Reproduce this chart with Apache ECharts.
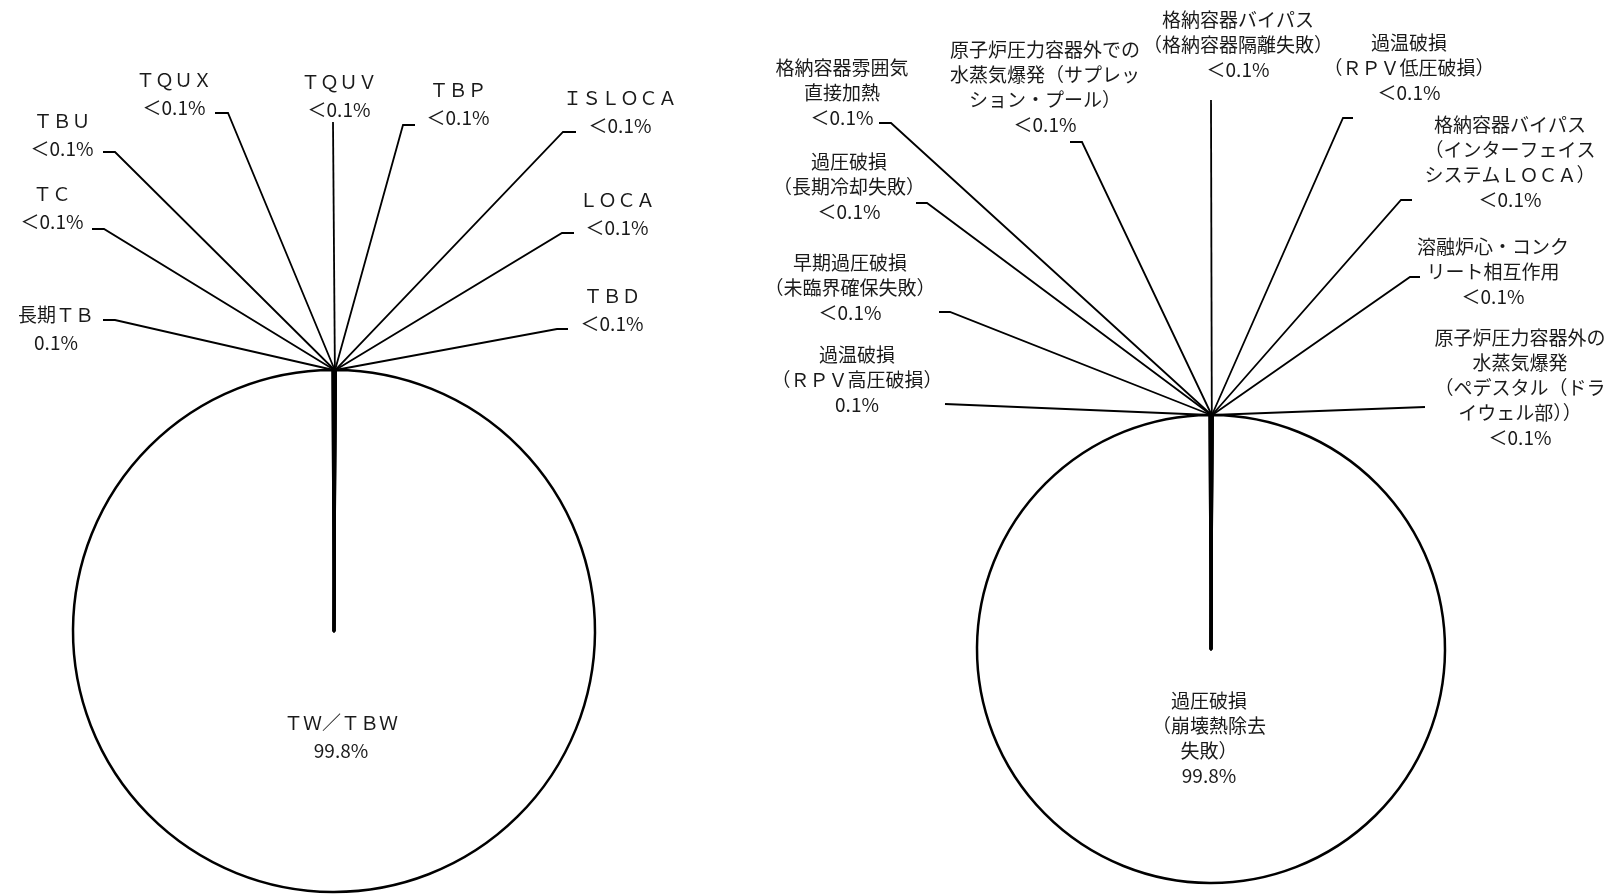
<!DOCTYPE html>
<html>
<head>
<meta charset="utf-8">
<script src="https://cdn.jsdelivr.net/npm/echarts@6/dist/echarts.min.js"></script>
<style>
html, body { margin: 0; padding: 0; background: #fff; }
#main { width: 1610px; height: 894px; }
</style>
</head>
<body>
<div id="main"></div>
<script>
// left pie: sequences (dominant slice first so the thin ones are drawn over it)
var leftNames = ['ＴＷ／ＴＢＷ', '長期ＴＢ', 'ＴＣ', 'ＴＢＵ', 'ＴＱＵＸ', 'ＴＱＵＶ', 'ＴＢＰ', 'ＩＳＬＯＣＡ', 'ＬＯＣＡ', 'ＴＢＤ'];
var leftValues = [99.8, 0.1, 0.01, 0.01, 0.01, 0.01, 0.01, 0.01, 0.01, 0.01];
var leftPctText = ['99.8%', '0.1%', '＜0.1%', '＜0.1%', '＜0.1%', '＜0.1%', '＜0.1%', '＜0.1%', '＜0.1%', '＜0.1%'];

// right pie: containment failure modes
var rightNames = [
    '過圧破損\n（崩壊熱除去\n失敗）',
    '過温破損\n（ＲＰＶ高圧破損）',
    '早期過圧破損\n（未臨界確保失敗）',
    '過圧破損\n（長期冷却失敗）',
    '格納容器雰囲気\n直接加熱',
    '原子炉圧力容器外での\n水蒸気爆発（サプレッ\nション・プール）',
    '格納容器バイパス\n（格納容器隔離失敗）',
    '過温破損\n（ＲＰＶ低圧破損）',
    '格納容器バイパス\n（インターフェイス\nシステムＬＯＣＡ）',
    '溶融炉心・コンク\nリート相互作用',
    '原子炉圧力容器外の\n水蒸気爆発\n（ペデスタル（ドラ\nイウェル部））'
];
var rightValues = [99.8, 0.1, 0.01, 0.01, 0.01, 0.01, 0.01, 0.01, 0.01, 0.01, 0.01];
var rightPctText = ['99.8%', '0.1%', '＜0.1%', '＜0.1%', '＜0.1%', '＜0.1%', '＜0.1%', '＜0.1%', '＜0.1%', '＜0.1%', '＜0.1%'];

// label placement (block centre) and leader line bend/end points
var leftLabelPos = [[341, 737], [56, 329], [52, 208], [62, 135], [174, 94], [339, 96], [458, 104], [620, 112], [617, 214], [612, 310]];
var leftBends = [null, [115, 320, 103, 320], [104, 229, 92, 229], [115, 152, 103, 152], [228, 113, 215, 113], [333, 122, 333, 122],
    [403, 125, 415, 125], [563, 132, 576, 132], [562, 233, 574, 233], [557, 329, 568, 329]];
var rightLabelPos = [[1209, 738], [857, 380], [850, 288], [849, 187], [842, 93], [1045, 87], [1238, 45], [1409, 68], [1510, 162], [1493, 272], [1520, 388]];
var rightBends = [null, [945, 404, 945, 404], [950, 312, 939, 312], [927, 203, 916, 203], [891, 123, 879, 123], [1082, 142, 1070, 142],
    [1211, 100, 1211, 100], [1343, 118, 1353, 118], [1401, 200, 1412, 200], [1410, 277, 1420, 277], [1425, 407, 1425, 407]];

var fontFamily = '"Noto Sans CJK JP", sans-serif';

function buildData(names, values, pct) {
    var result = [];
    for (var i = 0; i < values.length; i++) {
        var item = {
            name: names[i],
            value: values[i],
            label: { formatter: names[i] + '\n' + pct[i] }
        };
        if (i == 0) {
            item.itemStyle = { color: '#fff', borderWidth: 2.5 };
            item.label.position = 'inside';
            item.labelLine = { show: false };
        }
        result.push(item);
    }
    return result;
}

function makeLayout(pos, bends) {
    return function (params) {
        var i = params.dataIndex;
        var res = { x: pos[i][0], y: pos[i][1], align: 'center', verticalAlign: 'middle' };
        var b = bends[i];
        if (b && params.labelLinePoints && params.labelLinePoints.length) {
            var p0 = params.labelLinePoints[0];
            res.labelLinePoints = [[p0[0], p0[1]], [b[0], b[1]], [b[2], b[3]]];
        }
        return res;
    };
}

function createSeries(center, radius, lineHeight, names, values, pct, pos, bends) {
    return {
        type: 'pie',
        center: center,
        radius: radius,
        startAngle: 89.64,
        clockwise: true,
        avoidLabelOverlap: false,
        silent: true,
        itemStyle: {
            color: '#000',
            borderColor: '#000',
            borderWidth: 2.5
        },
        label: {
            show: true,
            position: 'outside',
            color: '#1a1a1a',
            fontSize: 19,
            lineHeight: lineHeight,
            fontFamily: fontFamily,
            align: 'center'
        },
        labelLine: {
            show: true,
            length: 10,
            length2: 10,
            lineStyle: { color: '#000', width: 1.8 }
        },
        labelLayout: makeLayout(pos, bends),
        data: buildData(names, values, pct)
    };
}

var chart = echarts.init(document.getElementById('main'));
chart.setOption({
    backgroundColor: '#fff',
    animation: false,
    series: [
        createSeries([334, 631], 261, 28, leftNames, leftValues, leftPctText, leftLabelPos, leftBends),
        createSeries([1211, 649], 234, 25, rightNames, rightValues, rightPctText, rightLabelPos, rightBends)
    ]
});
</script>
</body>
</html>
